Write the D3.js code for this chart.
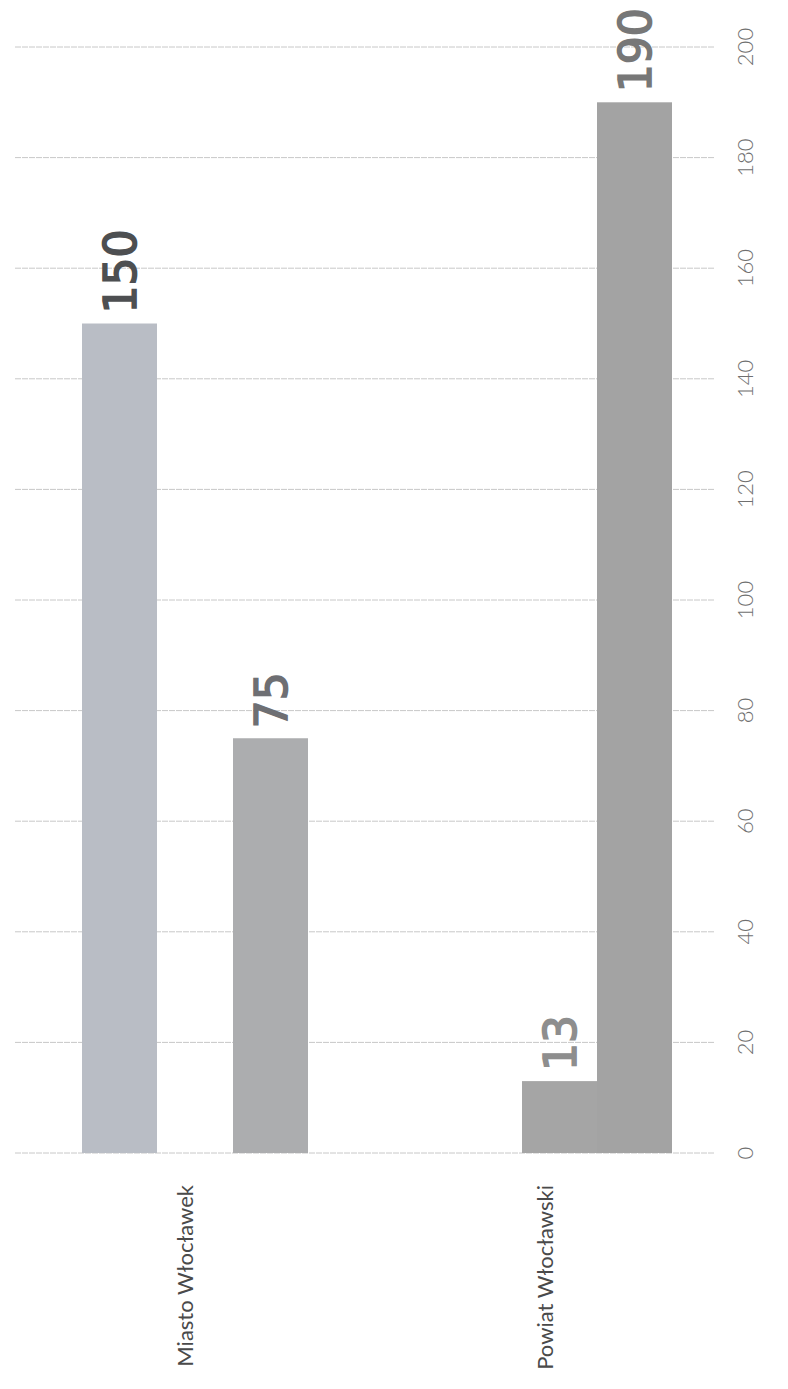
<!DOCTYPE html>
<html><head><meta charset="utf-8">
<script src="https://cdn.jsdelivr.net/npm/d3@7"></script>
<style>html,body{margin:0;padding:0;background:#fff;}svg{display:block;}</style>
</head><body>
<svg id="c" width="788" height="1389"></svg>
<script>
// ---- data ----
const categories = ["Miasto Włocławek", "Powiat Włocławski"];
const seriesA = [150, 13];
const seriesB = [75, 190];
const tickValues = [0, 20, 40, 60, 80, 100, 120, 140, 160, 180, 200];

// ---- layout ----
const svg = d3.select("#c");
const y = d3.scaleLinear().domain([0, 200]).range([1153, 47]);
const bars = [];
categories.forEach((c, i) => {
  bars.push({id: c + "|A", cat: c, v: seriesA[i]});
  bars.push({id: c + "|B", cat: c, v: seriesB[i]});
});
const xLeft = d3.scaleOrdinal().domain(bars.map(d => d.id)).range([82, 233, 522, 597]);
const barW = 75;
const fills = d3.scaleOrdinal().domain(bars.map(d => d.id)).range(["#b9bdc5", "#acadaf", "#a5a5a5", "#a3a3a3"]);
const labelFill = d3.scaleOrdinal().domain(bars.map(d => d.id)).range(["#4d4f51", "#6e6f73", "#8e8e8e", "#777777"]);
const catX = d3.scalePoint().domain(categories).range([185, 545]);

// gridlines
svg.append("g").selectAll("line").data(tickValues).join("line")
  .attr("x1", 15).attr("x2", 715)
  .attr("y1", d => y(d)).attr("y2", d => y(d))
  .attr("stroke", "#c8c8c8").attr("stroke-width", 1)
  .attr("stroke-dasharray", "6,1");

// tick labels
svg.append("g").selectAll("text").data(tickValues).join("text")
  .attr("transform", d => `translate(753,${y(d)}) rotate(-90)`)
  .attr("text-anchor", "middle")
  .attr("font-family", "Lato, 'Open Sans', sans-serif")
  .attr("font-size", 22).attr("font-weight", 300).attr("fill", "#6f6f6f")
  .text(d => d);

// bars
svg.append("g").selectAll("rect").data(bars).join("rect")
  .attr("x", d => xLeft(d.id)).attr("width", barW)
  .attr("y", d => y(d.v)).attr("height", d => y(0) - y(d.v))
  .attr("fill", d => fills(d.id));

// value labels
svg.append("g").selectAll("text").data(bars).join("text")
  .attr("transform", d => `translate(${xLeft(d.id) + barW / 2 + 16},${y(d.v) - 10}) rotate(-90)`)
  .attr("text-anchor", "start")
  .attr("font-family", "'DejaVu Sans', sans-serif")
  .attr("font-size", 44)
  .attr("fill", d => labelFill(d.id))
  .attr("stroke", d => labelFill(d.id)).attr("stroke-width", 1.6)
  .text(d => d.v);

// category labels
svg.append("g").selectAll("text").data(categories).join("text")
  .attr("transform", d => `translate(${catX(d) + 8},1185) rotate(-90)`)
  .attr("text-anchor", "end")
  .attr("font-family", "Lato, 'Open Sans', sans-serif")
  .attr("font-size", 22).attr("fill", "#4a4a4a")
  .text(d => d);
</script>
</body></html>
